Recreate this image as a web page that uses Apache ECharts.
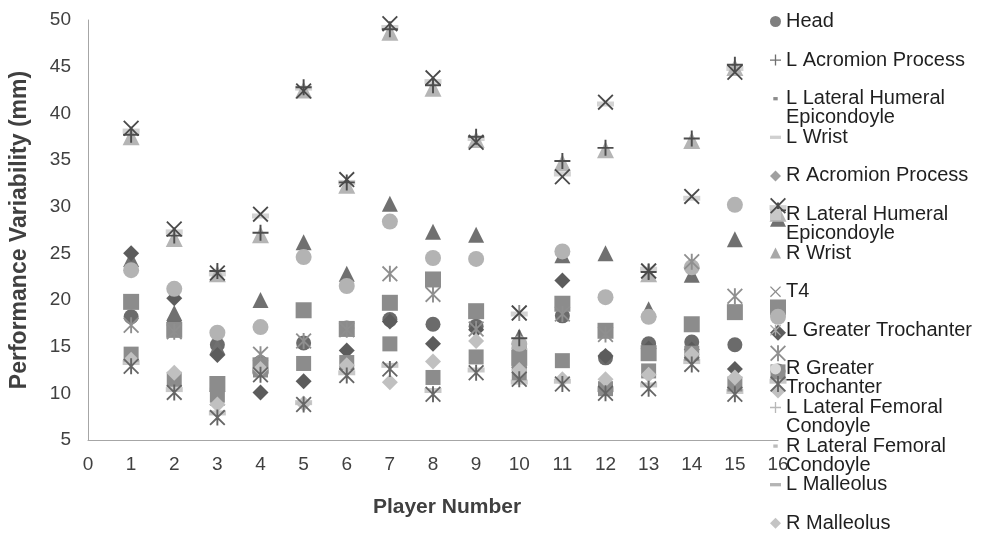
<!DOCTYPE html>
<html><head><meta charset="utf-8">
<script src="https://cdn.jsdelivr.net/npm/echarts@6/dist/echarts.min.js"></script>
<style>html,body{margin:0;padding:0;background:#fff}#c{width:987px;height:543px}</style>
</head><body><div id="c"></div>
<script>
// ---- data ----
const players = [1,2,3,4,5,6,7,8,9,10,11,12,13,14,15,16];
const seriesNames = ['Head','L Acromion Process','L Lateral Humeral Epicondoyle','L Wrist','R Acromion Process','R Lateral Humeral Epicondoyle','R Wrist','T4','L Greater Trochanter','R Greater Trochanter','L Lateral Femoral Condoyle','R Lateral Femoral Condoyle','L Malleolus','R Malleolus'];
const head = [18.2,17.6,15.2,13.3,15.4,17.0,17.9,17.4,17.2,14.9,18.3,13.8,15.3,15.5,15.2,12.4];
const lAcromion = [37.7,26.9,23.1,27.2,42.8,32.6,49.0,43.0,37.5,15.9,34.9,36.3,23.0,37.3,45.2,29.6];
const lHumeral = [24.4,18.6,15.0,20.0,26.2,22.8,30.3,27.3,27.0,16.1,24.8,25.0,19.0,22.7,26.5,28.7];
const lWrist = [38.1,27.3,22.8,29.0,42.7,32.6,49.2,43.4,37.3,18.5,33.5,41.0,23.3,30.9,44.8,29.9];
const rAcromion = [25.0,20.2,14.1,10.1,11.3,14.6,17.7,15.3,16.8,12.8,22.1,14.0,14.8,14.7,12.6,16.5];
const rHumeral = [19.8,16.8,11.0,13.0,18.9,16.9,19.7,22.2,18.8,13.8,19.6,16.7,14.3,17.4,18.7,19.2];
const rWrist = [37.5,26.6,22.8,27.0,42.5,32.3,48.7,42.7,37.2,15.6,34.7,36.1,22.8,37.1,44.9,29.3];
const t4 = [38.4,27.6,22.9,29.2,42.4,32.9,49.6,43.8,36.9,18.6,33.2,41.2,23.1,31.1,44.4,30.1];
const lTrochanter = [12.9,10.1,7.4,12.0,8.8,11.9,12.6,9.9,12.2,11.5,11.0,10.0,10.5,13.1,9.9,11.0];
const rTrochanter = [23.2,21.2,16.5,17.1,24.6,21.5,28.4,24.5,24.4,15.3,25.2,20.3,18.2,23.5,30.2,18.2];
const lFemoral = [17.3,16.6,9.5,14.2,15.6,16.8,22.8,20.6,16.9,18.6,18.5,16.3,23.1,24.1,20.4,14.3];
const rFemoral = [14.2,11.5,9.8,12.5,13.2,13.3,15.3,11.7,13.9,12.2,13.5,10.5,12.4,14.3,11.0,12.3];
const lMalleolus = [13.3,10.4,7.9,12.3,9.0,12.2,13.0,10.3,12.5,11.2,11.3,10.4,10.9,13.4,10.2,11.3];
const rMalleolus = [13.6,12.2,8.8,12.6,8.9,13.0,11.2,13.4,15.6,12.5,11.5,11.5,12.0,14.2,11.7,10.3];
const xTicks = [0,1,2,3,4,5,6,7,8,9,10,11,12,13,14,15,16];
const yTicks = [5,10,15,20,25,30,35,40,45,50];

// ---- styling ----
const XP = 'path://M0,0.8L0.8,0L5,4.2L9.2,0L10,0.8L5.8,5L10,9.2L9.2,10L5,5.8L0.8,10L0,9.2L4.2,5Z';
const PLUS = 'path://M4.4,0H5.6V4.4H10V5.6H5.6V10H4.4V5.6H0V4.4H4.4Z';
const AST = XP + 'M4.4,0H5.6V10H4.4Z';
const LONGD = 'path://M0,0H10V3H0Z';
const SHORTD = 'path://M0,0L0,0M3,0H7V3H3ZM10,3L10,3';

const values = [head,lAcromion,lHumeral,lWrist,rAcromion,rHumeral,rWrist,t4,lTrochanter,rTrochanter,lFemoral,rFemoral,lMalleolus,rMalleolus];
const marks = [
  {symbol:'circle', size:15, color:'#6b6b6b', z:2},
  {symbol:PLUS, size:16, color:'#4d4d4d', z:3},
  {symbol:'triangle', size:16, color:'#707070', z:2},
  {symbol:'rect', size:[17,5], color:'#d3d3d3', z:1},
  {symbol:'diamond', size:16, color:'#5c5c5c', z:2},
  {symbol:'rect', size:16, color:'#8c8c8c', z:2},
  {symbol:'triangle', size:17, color:'#b5b5b5', z:2},
  {symbol:XP, size:16, color:'#4a4a4a', z:4},
  {symbol:AST, size:16, color:'#666666', z:4},
  {symbol:'circle', size:16, color:'#b3b3b3', z:2},
  {symbol:AST, size:16, color:'#8f8f8f', z:2},
  {symbol:'rect', size:15, color:'#8c8c8c', z:2},
  {symbol:'rect', size:[17,5], color:'#c8c8c8', z:1},
  {symbol:'diamond', size:16, color:'#c0c0c0', z:2}
];
const legendIcons = [
  ['circle','#7f7f7f'],[PLUS,'#6f6f6f'],[SHORTD,'#8c8c8c'],[LONGD,'#d0d0d0'],
  ['diamond','#a0a0a0'],['rect','#c8c8c8'],['triangle','#a8a8a8'],[XP,'#8c8c8c'],
  [AST,'#a8a8a8'],['circle','#d8d8d8'],[PLUS,'#b8b8b8'],[SHORTD,'#bcbcbc'],
  [LONGD,'#b4b4b4'],['diamond','#c4c4c4']
];
const wrapped = {
  'L Lateral Humeral Epicondoyle':'L Lateral Humeral\nEpicondoyle',
  'R Lateral Humeral Epicondoyle':'R Lateral Humeral\nEpicondoyle',
  'R Greater Trochanter':'R Greater\nTrochanter',
  'L Lateral Femoral Condoyle':'L Lateral Femoral\nCondoyle',
  'R Lateral Femoral Condoyle':'R Lateral Femoral\nCondoyle'
};

const series = seriesNames.map((name, k) => ({
  name: name,
  type: 'scatter',
  z: marks[k].z,
  symbol: marks[k].symbol,
  symbolSize: marks[k].size,
  itemStyle: {color: marks[k].color, opacity: 1, borderWidth: 0},
  emphasis: {disabled: true},
  data: players.map((p, i) => [p, values[k][i]])
}));

const LH = 19;
const legends = seriesNames.map((n, k) => {
  const multi = !!wrapped[n];
  const th = multi ? 3 * LH : LH;
  const cy = 21 + k * 38.6;
  return {
    orient: 'vertical', left: 770, top: cy - th / 2, padding: 0,
    itemWidth: 11, itemHeight: 11, selectedMode: false,
    data: [{name: n, icon: legendIcons[k][0], itemStyle: {color: legendIcons[k][1], borderWidth: 0, opacity: 1}}],
    formatter: name => wrapped[name] ? '\n' + wrapped[name] : name,
    textStyle: {fontSize: 20, color: '#1f1f1f', lineHeight: LH}
  };
});

const chart = echarts.init(document.getElementById('c'), null, {renderer:'canvas'});
chart.setOption({
  animation: false,
  backgroundColor: '#ffffff',
  textStyle: {fontFamily: '"Liberation Sans", Arial, sans-serif'},
  grid: {left: 88, right: 209, top: 20, bottom: 103, outerBoundsMode: 'none'},
  xAxis: {
    type: 'value', min: xTicks[0], max: xTicks[xTicks.length-1], interval: 1,
    axisLine: {show: true, onZero: false, lineStyle: {color: '#a6a6a6', width: 1}},
    axisTick: {show: false}, splitLine: {show: false},
    axisLabel: {fontSize: 19, color: '#404040', margin: 15},
    name: 'Player Number', nameLocation: 'middle', nameGap: 57,
    nameTextStyle: {fontSize: 21, fontWeight: 'bold', color: '#404040', padding: [0, 0, 0, 28]}
  },
  yAxis: {
    type: 'value', min: yTicks[0], max: yTicks[yTicks.length-1], interval: 5,
    axisLine: {show: true, onZero: false, lineStyle: {color: '#a6a6a6', width: 1}},
    axisTick: {show: false}, splitLine: {show: false},
    axisLabel: {fontSize: 19, color: '#404040', margin: 17},
    name: 'Performance Variability (mm)', nameLocation: 'middle', nameGap: 57,
    nameTextStyle: {fontSize: 23, fontWeight: 'bold', color: '#404040'}
  },
  legend: legends,
  series: series
});
</script>
</body></html>
